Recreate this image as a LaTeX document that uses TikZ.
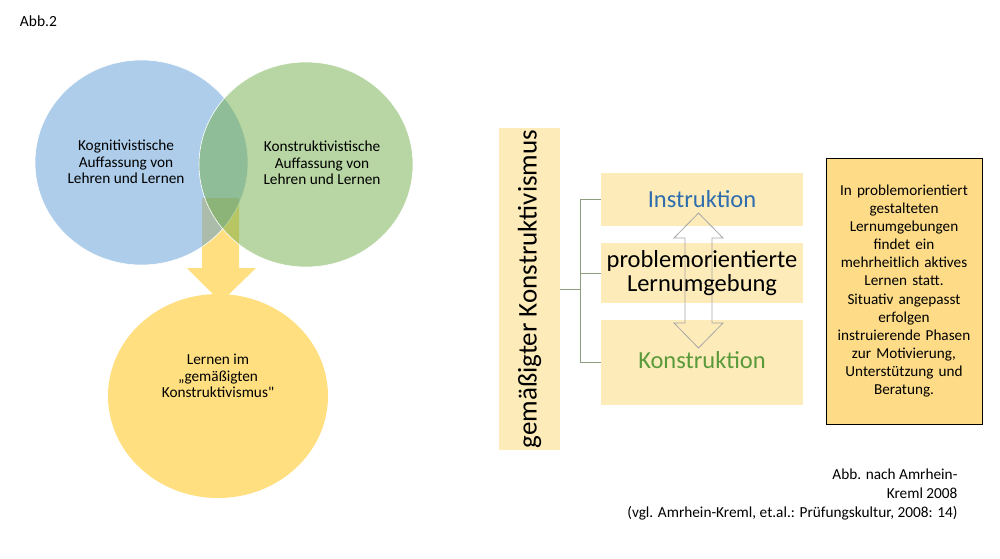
\documentclass[tikz,border=0pt]{standalone}
\usepackage{fontspec}
\setmainfont{Carlito}[Ligatures=TeXOff]
\definecolor{blueC}{HTML}{5B9BD5}
\definecolor{greenC}{HTML}{70AD47}
\definecolor{yellowC}{HTML}{FFDF80}
\definecolor{bandC}{HTML}{FDEBB9}
\definecolor{noteC}{HTML}{FDDB87}
\definecolor{instC}{HTML}{2E6DAE}
\definecolor{konsC}{HTML}{5A9A3A}
\definecolor{forkC}{HTML}{8C9E7E}
\definecolor{dblC}{HTML}{A6A6A6}
\begin{document}
\begin{tikzpicture}[x=1pt, y=-1pt,
    circtext/.style={align=center, font=\fontsize{15.3}{16.3}\selectfont},
    plaintext/.style={align=center, font=\fontsize{15.2}{18.1}\selectfont},
    bigtext/.style={align=center, font=\fontsize{24.5}{24}\selectfont},
    band/.style={fill=bandC, minimum width=202pt, inner sep=0pt},
    fork/.style={draw=forkC, line width=0.8pt}]
    \useasboundingbox (0,0) rectangle (1000,558);
    % left: venn diagram
    \fill[yellowC] (202,198) -- (239,198) -- (239,268) -- (256,268) -- (221,302)
        -- (187,268) -- (202,268) -- cycle;
    \filldraw[fill=blueC, fill opacity=0.5, draw=white, line width=0.6pt] (141.5,162.5) ellipse (106.5 and 102.5);
    \filldraw[fill=greenC, fill opacity=0.5, draw=white, line width=0.6pt] (306,164.5) ellipse (107 and 102.5);
    \fill[yellowC] (218,396) ellipse (110 and 102);
    \node[] (abb) at (38.5,21) {\fontsize{15.5}{17}\selectfont Abb.2};
    \node[circtext] (kog) at (126,162) {Kognitivistische\\Auffassung von\\Lehren und Lernen};
    \node[circtext] (kon) at (322,163) {Konstruktivistische\\Auffassung von\\Lehren und Lernen};
    \node[circtext] (lern) at (218,376) {Lernen im\\„gemäßigten\\Konstruktivismus"};
    % right: boxes
    \node[fill=bandC, minimum width=61pt, minimum height=322pt, inner sep=0pt] (bar) at (529.5,289) {};
    \node[rotate=90, font=\fontsize{27}{28}\selectfont] (bartext) at (bar.center) {gemäßigter Konstruktivismus};
    \node[band, minimum height=53pt] (inst) at (702,199.5) {};
    \node[band, minimum height=60pt] (prob) at (702,273) {};
    \node[band, minimum height=85pt] (kons) at (702,362.5) {};
    \draw[dblC, line width=0.8pt] (698.5,213) -- (723,238) -- (712,238) -- (712,323) -- (723,323)
        -- (698.5,348) -- (674,323) -- (685,323) -- (685,238) -- (674,238) -- cycle;
    \node[bigtext, text=instC] (insttext) at (inst.center) {Instruktion};
    \node[bigtext] (probtext) at (prob.center) {problemorientierte\\Lernumgebung};
    \node[bigtext, text=konsC] (konstext) at (702,360) {Konstruktion};
    \draw[fork] (bar.east) -- ++(20,0) coordinate (split);
    \draw[fork] (split |- inst.west) -- (split |- kons.west);
    \draw[fork] (split |- inst.west) -- (inst.west);
    \draw[fork] (split |- prob.west) -- (prob.west);
    \draw[fork] (split |- kons.west) -- (kons.west);
    \node[draw=black, fill=noteC, line width=0.8pt, minimum width=156pt, minimum height=266pt,
        text width=150pt, inner sep=0pt, plaintext] (note) at (904,291)
        {In problemorientiert\\gestalteten\\Lernumgebungen\\findet ein\\mehrheitlich aktives\\Lernen statt.\\Situativ angepasst\\erfolgen\\instruierende Phasen\\zur Motivierung,\\Unterstützung und\\Beratung.};
    \node[anchor=east, align=right, font=\fontsize{15.3}{19}\selectfont] (quelle) at (961,494)
        {Abb. nach Amrhein-\\Kreml 2008\\(vgl. Amrhein-Kreml, et.al.: Prüfungskultur, 2008: 14)};
\end{tikzpicture}
\end{document}
